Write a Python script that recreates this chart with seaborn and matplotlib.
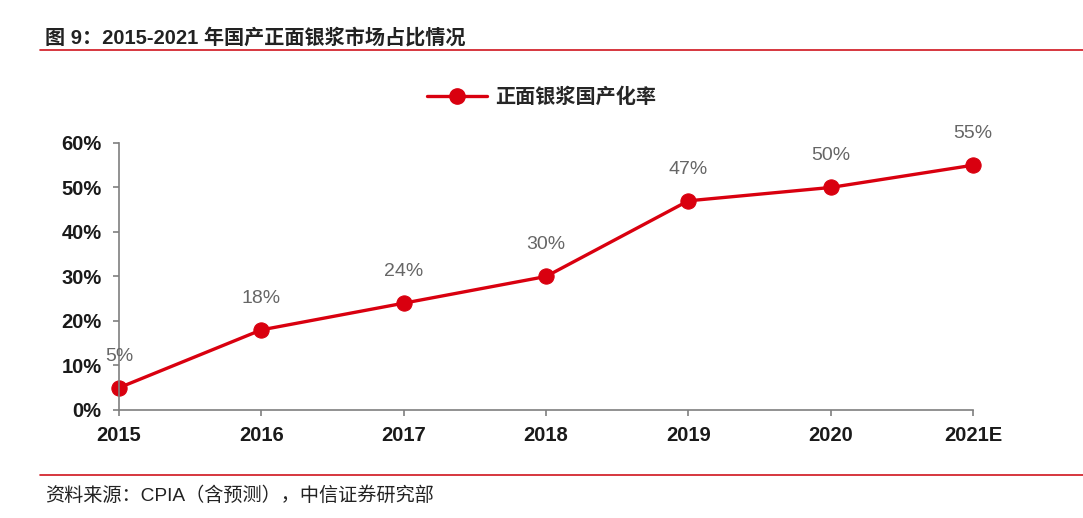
import pandas as pd
import matplotlib
matplotlib.use("Agg")
import matplotlib.pyplot as plt
import seaborn as sns
from matplotlib.lines import Line2D

years = ["2015", "2016", "2017", "2018", "2019", "2020", "2021E"]
share = [5, 18, 24, 30, 47, 50, 55]
series_name = "正面银浆国产化率"
y_ticks = [0, 10, 20, 30, 40, 50, 60]

df = pd.DataFrame({"year": years, "share": share})

sns.set_theme(style="white")
plt.rcParams['font.family'] = ['Liberation Sans', 'Noto Sans CJK SC']

RED = "#d9000f"

fig = plt.figure(figsize=(10.83, 5.18), dpi=100)
ax = fig.add_axes([0.1099, 0.2085, 0.7885, 0.5155])

sns.lineplot(data=df, x="year", y="share", ax=ax, color=RED, linewidth=2.4,
             marker="o", markersize=11, markeredgecolor=RED, clip_on=False)

for i, v in enumerate(share):
    ax.text(i, v + 5.2, f"{v}%", ha="center", va="bottom", fontsize=14,
            color="#666666", family=['Liberation Sans Narrow', 'Liberation Sans'])

ax.set_xlim(0, len(years) - 1)
ax.set_ylim(0, 60)
ax.set_yticks(y_ticks)
ax.set_yticklabels([f"{t}%" for t in y_ticks])
ax.set_xlabel("")
ax.set_ylabel("")
for s in ["top", "right"]:
    ax.spines[s].set_visible(False)
for s in ["left", "bottom"]:
    ax.spines[s].set_color("#7f7f7f")
    ax.spines[s].set_linewidth(1.2)
ax.tick_params(axis="both", which="both", direction="out", length=4.5, width=1.2,
               color="#7f7f7f", labelsize=14.5, labelcolor="#1a1a1a",
               bottom=True, left=True)
ax.tick_params(axis="y", pad=8)
ax.tick_params(axis="x", pad=7)
for lbl in ax.get_xticklabels() + ax.get_yticklabels():
    lbl.set_fontweight("bold")

handle = Line2D([0], [0], color=RED, linewidth=2.4, marker="o", markersize=11)
fig.legend([handle], [series_name], loc="center", bbox_to_anchor=(0.5, 0.813),
           frameon=False, prop={"size": 14.5, "weight": "bold"}, handlelength=3.0,
           handletextpad=0.4)

fig.text(0.042, 0.928, "图 9：2015-2021 年国产正面银浆市场占比情况", fontsize=14.5,
         fontweight="bold", color="#222222", va="center", ha="left")
fig.add_artist(Line2D([0.037, 1.0], [0.903, 0.903], color="#d0141e", linewidth=1.2,
                      transform=fig.transFigure))
fig.add_artist(Line2D([0.037, 1.0], [0.083, 0.083], color="#d0141e", linewidth=1.2,
                      transform=fig.transFigure))
fig.text(0.042, 0.044, "资料来源：CPIA（含预测），中信证券研究部", fontsize=13.8,
         color="#222222", va="center", ha="left")

fig.savefig("out.png", dpi=100, facecolor="white")
